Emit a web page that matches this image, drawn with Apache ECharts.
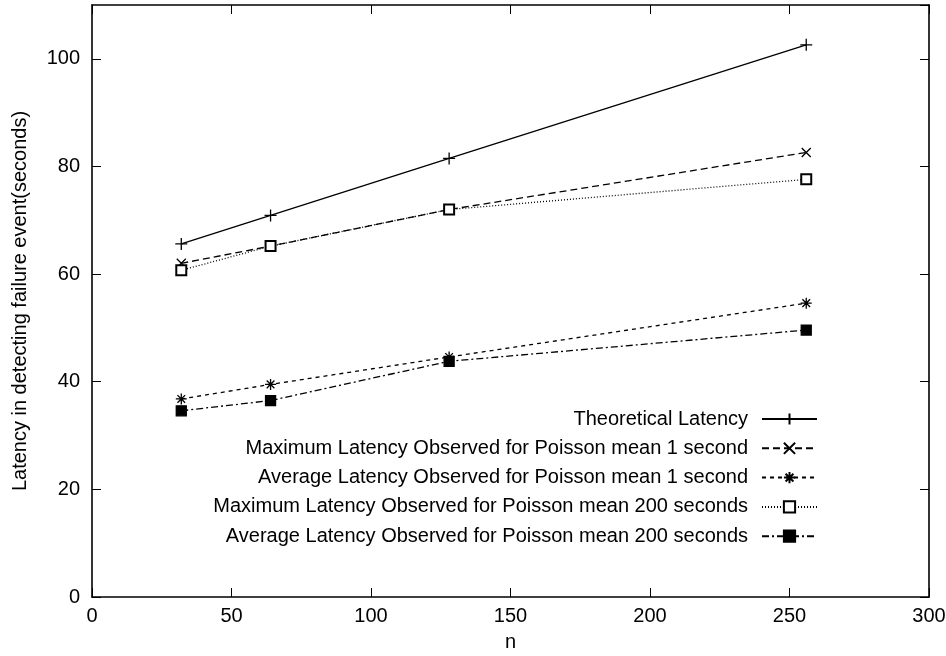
<!DOCTYPE html>
<html>
<head>
<meta charset="utf-8">
<script src="https://cdn.jsdelivr.net/npm/echarts@6/dist/echarts.min.js"></script>
<style>
  html, body { margin: 0; padding: 0; background: #fff; }
  #chart { width: 946px; height: 656px; }
</style>
</head>
<body>
<div id="chart"></div>
<script>
// Network sizes on the x axis
const nValues = [32, 64, 128, 256];

// Latency series (seconds)
const theoretical = [65.6, 70.9, 81.5, 102.6];
const maxPoisson1 = [62.0, 65.2, 72.0, 82.6];
const avgPoisson1 = [36.8, 39.5, 44.6, 54.6];
const maxPoisson200 = [60.7, 65.2, 72.0, 77.6];
const avgPoisson200 = [34.6, 36.5, 43.8, 49.6];

const seriesNames = [
  'Theoretical Latency',
  'Maximum Latency Observed for Poisson mean 1 second',
  'Average Latency Observed for Poisson mean 1 second',
  'Maximum Latency Observed for Poisson mean 200 seconds',
  'Average Latency Observed for Poisson mean 200 seconds'
];

const FONT = 'Liberation Sans, Arial, Helvetica, sans-serif';

// Stroke-drawn point markers
const plusSym = 'path://M0,5L10,5M5,0L5,10';
const crossSym = 'path://M0,0L10,10M10,0L0,10';
const starSym = 'path://M0,5L10,5M5,0L5,10M1.5,1.5L8.5,8.5M8.5,1.5L1.5,8.5';

function pairs(ys) {
  return nValues.map((n, i) => [n, ys[i]]);
}

function lineSeries(name, ys, symbol, size, dash) {
  return {
    name: name,
    type: 'line',
    data: pairs(ys),
    symbol: symbol,
    symbolSize: size,
    showAllSymbol: true,
    animation: false,
    lineStyle: { color: '#000', width: 1.3, type: dash },
    itemStyle: { color: '#000', borderColor: '#000', borderWidth: 1.3 },
    emphasis: { disabled: true }
  };
}

const chart = echarts.init(document.getElementById('chart'), null, { renderer: 'canvas' });

const axisLine = { show: true, onZero: false, lineStyle: { color: '#000', width: 1.6 } };
const axisTick = { show: true, inside: true, length: 9, lineStyle: { color: '#000', width: 1 } };
const labelStyle = { fontFamily: FONT, fontSize: 20, color: '#000' };

chart.setOption({
  backgroundColor: '#fff',
  animation: false,
  grid: { left: 92, right: 17, top: 5, bottom: 59, outerBoundsMode: 'none', containLabel: false },
  xAxis: [
    {
      type: 'value', min: 0, max: 300, interval: 50,
      name: 'n', nameLocation: 'middle', nameGap: 35,
      nameTextStyle: labelStyle,
      axisLine: axisLine, axisTick: axisTick,
      axisLabel: Object.assign({ margin: 9 }, labelStyle),
      splitLine: { show: false }
    },
    {
      type: 'value', min: 0, max: 300, interval: 50, position: 'top',
      axisLine: axisLine, axisTick: axisTick,
      axisLabel: { show: false }, splitLine: { show: false }
    }
  ],
  yAxis: [
    {
      type: 'value', min: 0, max: 110, interval: 20,
      name: 'Latency in detecting failure event(seconds)',
      nameLocation: 'middle', nameGap: 62,
      nameTextStyle: labelStyle,
      axisLine: axisLine, axisTick: axisTick,
      axisLabel: Object.assign({ margin: 12, showMaxLabel: false }, labelStyle),
      splitLine: { show: false }
    },
    {
      type: 'value', min: 0, max: 110, interval: 20, position: 'right',
      axisLine: axisLine, axisTick: axisTick,
      axisLabel: { show: false }, splitLine: { show: false }
    }
  ],
  legend: {
    orient: 'vertical',
    align: 'right',
    right: 123,
    top: 404,
    itemWidth: 55,
    itemHeight: 14,
    itemGap: 9.3,
    selectedMode: false,
    textStyle: {
      fontFamily: FONT, fontSize: 20, color: '#000',
      lineHeight: 20, padding: [0, 9, 0, 0]
    },
    data: seriesNames
  },
  series: [
    lineSeries(seriesNames[0], theoretical, plusSym, 12, 'solid'),
    lineSeries(seriesNames[1], maxPoisson1, crossSym, 9, [7, 4]),
    lineSeries(seriesNames[2], avgPoisson1, starSym, 11, [4, 4]),
    lineSeries(seriesNames[3], maxPoisson200, 'emptyRect', 10, [1, 2]),
    lineSeries(seriesNames[4], avgPoisson200, 'rect', 10, [7, 3, 2, 3])
  ]
});
</script>
</body>
</html>
